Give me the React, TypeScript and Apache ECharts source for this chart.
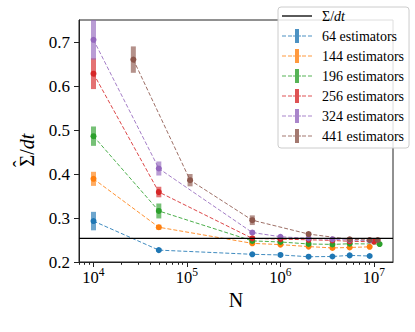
import React, { useEffect, useRef } from 'react';
import * as echarts from 'echarts';

const FONT = 'Liberation Serif, DejaVu Serif, serif';

// ---- data ----
const seriesNames = ['64 estimators', '144 estimators', '196 estimators', '256 estimators', '324 estimators', '441 estimators'];
const colors = ['#1f77b4', '#ff7f0e', '#2ca02c', '#d62728', '#9467bd', '#8c564b'];

const n64 = [1e4, 5e4, 5e5, 1e6, 2e6, 3.6e6, 5.5e6, 9e6];
const v64 = [0.293, 0.227, 0.2175, 0.216, 0.212, 0.2125, 0.215, 0.2136];
const e64 = [0.021, 0.004, 0.003, 0.003, 0.003, 0.003, 0.003, 0.003];

const n144 = [1e4, 5e4, 5e5, 1e6, 2e6, 3.6e6, 5.5e6, 9e6];
const v144 = [0.389, 0.279, 0.2424, 0.2395, 0.235, 0.232, 0.233, 0.2345];
const e144 = [0.016, 0.006, 0.004, 0.003, 0.003, 0.003, 0.003, 0.003];

const n196 = [1e4, 5e4, 5e5, 1e6, 2e6, 3.6e6, 5.5e6, 1.15e7];
const v196 = [0.486, 0.316, 0.248, 0.2455, 0.241, 0.24, 0.2415, 0.2408];
const e196 = [0.022, 0.017, 0.004, 0.003, 0.003, 0.003, 0.003, 0.003];

const n256 = [1e4, 5e4, 5e5, 1e6, 2e6, 3.6e6, 5.5e6, 1.0e7];
const v256 = [0.628, 0.359, 0.2537, 0.252, 0.2505, 0.249, 0.247, 0.246];
const e256 = [0.035, 0.012, 0.005, 0.004, 0.003, 0.003, 0.003, 0.003];

const n324 = [1e4, 5e4, 5e5, 1e6, 2e6, 3.6e6, 5.5e6, 9e6];
const v324 = [0.705, 0.4125, 0.267, 0.2574, 0.2537, 0.2515, 0.25, 0.249];
const e324 = [0.045, 0.016, 0.005, 0.004, 0.003, 0.003, 0.003, 0.003];

const n441 = [2.67e4, 1.08e5, 5e5, 2e6, 5.5e6, 9e6, 1.1e7];
const v441 = [0.66, 0.386, 0.295, 0.2635, 0.2515, 0.25, 0.25];
const e441 = [0.03, 0.014, 0.011, 0.005, 0.004, 0.004, 0.004];

const sigmaDt = 0.2537;
const sigmaName = 'Σ/dt';

const xMin = 7000;
const xMax = 1.6e7;
const yMin = 0.2;
const yMax = 0.75;
const xMajorTicks = [1e4, 1e5, 1e6, 1e7];
const xMinorTicks = [7000, 8000, 9000, 2e4, 3e4, 4e4, 5e4, 6e4, 7e4, 8e4, 9e4, 2e5, 3e5, 4e5, 5e5, 6e5, 7e5, 8e5, 9e5, 2e6, 3e6, 4e6, 5e6, 6e6, 7e6, 8e6, 9e6];
const yTicks = [0.2, 0.3, 0.4, 0.5, 0.6, 0.7];

const groups = [
  { n: n64, v: v64, e: e64 },
  { n: n144, v: v144, e: e144 },
  { n: n196, v: v196, e: e196 },
  { n: n256, v: v256, e: e256 },
  { n: n324, v: v324, e: e324 },
  { n: n441, v: v441, e: e441 },
];

const legendIconPath =
  'path://M0,6.5h4v1h-4z M6,6.5h4v1h-4z M11,6.5h3v1h-3z M13,0h4v14h-4z M16,6.5h3v1h-3z M20,6.5h4v1h-4z M26,6.5h4v1h-4z';
const legendLinePath = 'path://M0,0h30v1.3h-30z';

export default function App() {
  const ref = useRef<HTMLDivElement>(null);
  useEffect(() => {
    if (!ref.current) return;
    const chart = echarts.init(ref.current, null, { renderer: 'svg' });

    const series: any[] = [];
    groups.forEach((g, i) => {
      const rows = g.n.map((x, k) => [x, g.v[k], g.e[k]]);
      const color = colors[i];
      series.push({
        name: seriesNames[i] + ' err',
        type: 'custom',
        xAxisIndex: 0,
        yAxisIndex: 0,
        z: 2,
        data: rows,
        encode: { x: 0, y: 1 },
        renderItem: (params: any, api: any) => {
          const x = api.value(0);
          const v = api.value(1);
          const e = api.value(2);
          const top = api.coord([x, v + e]);
          const bot = api.coord([x, v - e]);
          const w = 5;
          const shape = echarts.graphic.clipRectByRect(
            { x: top[0] - w / 2, y: top[1], width: w, height: bot[1] - top[1] },
            { x: params.coordSys.x, y: params.coordSys.y, width: params.coordSys.width, height: params.coordSys.height }
          );
          if (!shape) return null;
          return { type: 'rect', shape, style: { fill: color, opacity: 0.65 } };
        },
      });
      series.push({
        name: seriesNames[i],
        type: 'line',
        xAxisIndex: 0,
        yAxisIndex: 0,
        z: 3,
        data: rows.map((r) => [r[0], r[1]]),
        symbol: 'circle',
        symbolSize: 6,
        itemStyle: { color },
        lineStyle: { color, width: 1, type: [4, 2], opacity: 0.85 },
        emphasis: { disabled: true },
      });
    });

    series.push({
      name: sigmaName,
      type: 'line',
      xAxisIndex: 0,
      yAxisIndex: 0,
      z: 4,
      data: [
        [xMin, sigmaDt],
        [xMax, sigmaDt],
      ],
      symbol: 'none',
      itemStyle: { color: '#000' },
      lineStyle: { color: '#000', width: 1.2 },
      emphasis: { disabled: true },
    });

    const option: any = {
      animation: false,
      textStyle: { fontFamily: FONT },
      grid: {
        left: 79,
        top: 20,
        right: 22,
        bottom: 70,
        show: true,
        borderColor: '#222',
        borderWidth: 1,
        backgroundColor: 'transparent',
      },
      graphic: [
        {
          type: 'text',
          x: 21,
          y: 164,
          rotation: Math.PI / 2,
          style: { text: 'ˆ', fontFamily: FONT, fontSize: 20, fill: '#000', textAlign: 'center', textVerticalAlign: 'middle' },
        },
      ],
      legend: {
        orient: 'vertical',
        left: 278,
        top: 7,
        padding: [2, 5, 5, 4],
        itemGap: 6,
        itemWidth: 30,
        itemHeight: 14,
        backgroundColor: 'rgba(255,255,255,0.85)',
        borderColor: '#cccccc',
        borderWidth: 1,
        borderRadius: 3,
        selectedMode: false,
        data: [
          { name: sigmaName, icon: legendLinePath, itemStyle: { color: '#000' } },
          ...seriesNames.map((nm, i) => ({ name: nm, icon: legendIconPath, itemStyle: { color: colors[i], opacity: 0.8 } })),
        ],
        formatter: (name: string) => (name === sigmaName ? '{n|Σ/}{i|dt}' : `{n|${name}}`),
        textStyle: {
          fontFamily: FONT,
          fontSize: 14,
          color: '#000',
          padding: [0, 0, 0, 5],
          rich: {
            n: { fontFamily: FONT, fontSize: 14, color: '#000' },
            i: { fontFamily: FONT, fontSize: 14, fontStyle: 'italic', color: '#000' },
          },
        },
      },
      xAxis: [
        {
          type: 'log',
          logBase: 10,
          min: xMin,
          max: xMax,
          position: 'bottom',
          name: '{n|N}',
          nameLocation: 'middle',
          nameGap: 28,
          nameTextStyle: { fontFamily: FONT, fontSize: 20, color: '#000', rich: { n: { fontFamily: FONT, fontSize: 20, color: '#000' } } },
          axisLine: { show: true, lineStyle: { color: '#222', width: 1 } },
          axisTick: { show: true, customValues: xMajorTicks, length: 5, lineStyle: { color: '#222' } },
          axisLabel: {
            customValues: xMajorTicks,
            margin: 4,
            formatter: (val: number) => `{b|10}{s|${Math.round(Math.log10(val))}}`,
            rich: {
              b: { fontFamily: FONT, fontSize: 16.5, lineHeight: 22, color: '#000' },
              s: { fontFamily: FONT, fontSize: 11.5, lineHeight: 11, verticalAlign: 'top', color: '#000' },
            },
          },
          splitLine: { show: false },
          minorTick: { show: false },
        },
        {
          type: 'log',
          logBase: 10,
          min: xMin,
          max: xMax,
          position: 'bottom',
          gridIndex: 0,
          axisLine: { show: false },
          axisTick: { show: true, customValues: xMinorTicks, length: 2.8, lineStyle: { color: '#222' } },
          axisLabel: { show: false },
          splitLine: { show: false },
        },
      ],
      yAxis: {
        type: 'value',
        min: yMin,
        max: yMax,
        name: '{n|Σ/}{i|dt}',
        nameLocation: 'middle',
        nameGap: 42,
        nameTextStyle: {
          padding: [0, 18, 0, 0],
          rich: {
            n: { fontFamily: FONT, fontSize: 20, color: '#000' },
            i: { fontFamily: FONT, fontSize: 20, fontStyle: 'italic', color: '#000' },
          },
        },
        axisLine: { show: true, lineStyle: { color: '#222', width: 1 } },
        axisTick: { show: true, customValues: yTicks, length: 5, lineStyle: { color: '#222' } },
        axisLabel: {
          customValues: yTicks,
          margin: 9,
          fontFamily: FONT,
          fontSize: 17,
          color: '#000',
          formatter: (v: number) => `{t|${v.toFixed(1)}}`,
          rich: { t: { fontFamily: FONT, fontSize: 17, color: '#000' } },
        },
        splitLine: { show: false },
      },
      series,
    };
    chart.setOption(option);
    return () => chart.dispose();
  }, []);
  return <div ref={ref} style={{ position: 'fixed', left: 0, top: 0, width: 415, height: 332, background: '#fff' }} />;
}
